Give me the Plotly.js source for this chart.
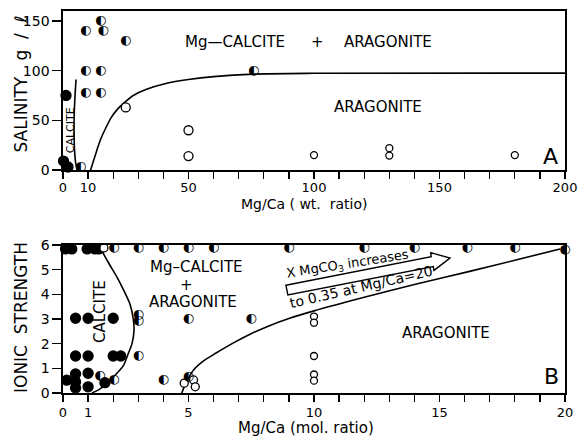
<!DOCTYPE html>
<html>
<head>
<meta charset="utf-8">
<script src="https://cdn.plot.ly/plotly-3.0.1.min.js"></script>
<style>
html,body{margin:0;padding:0;background:#fff;}
#chart{width:578px;height:439px;}
</style>
</head>
<body>
<div id="chart"></div>
<script>
// ---------- Panel A (salinity vs Mg/Ca wt. ratio) ----------
const topFilledX = [1.2, 0.2, 2];
const topFilledY = [75, 9, 3];
const topHalfX = [15, 9, 16, 25, 9, 15, 9, 15, 76, 7];
const topHalfY = [150, 140, 140, 130, 100, 100, 78, 78, 100, 3];
const topOpenX = [25, 50, 50];
const topOpenY = [63, 40, 14];
const topSmallOpenX = [100, 130, 130, 180];
const topSmallOpenY = [15, 22, 14.5, 15];
const topCalciteLineX = [5.2, 4.8, 4.45, 4.4, 4.6, 5.0, 5.6];
const topCalciteLineY = [91, 75, 55, 40, 20, 8, 0];
const topAragLineX = [11, 12, 13.5, 15, 17, 19, 22, 25, 28, 33, 41, 50, 60, 76, 100, 200];
const topAragLineY = [0, 8, 20, 31, 42, 52, 62, 69, 75, 81, 87, 91, 94, 96.5, 97.3, 97.5];
const topTickVals = [0,10,20,30,40,50,60,70,80,90,100,110,120,130,140,150,160,170,180,190,200];
const topTickText = ['0','10','','','','50','','','','','100','','','','','150','','','','','200'];
const topYTicks = [0, 50, 100, 150];

// ---------- Panel B (ionic strength vs Mg/Ca mol. ratio) ----------
const botFilledX = [0.1, 0.35, 0.96, 1.27, 1.43, 0.5, 1, 2, 0.5, 1, 2, 2.3, 0.15, 0.5, 0.5, 0.5, 1.0, 1.0, 1.67];
const botFilledY = [5.84, 5.84, 5.84, 5.84, 5.84, 3.03, 3.03, 3.03, 1.5, 1.5, 1.5, 1.5, 0.52, 0.77, 0.45, 0.2, 0.8, 0.25, 0.42];
const botHalfX = [2.03, 3, 4, 5, 6, 9, 12, 14, 16.1, 18, 20, 3, 3, 5, 7.5, 3, 1.47, 2.03, 4.0, 5.0];
const botHalfY = [5.88, 5.88, 5.88, 5.88, 5.88, 5.88, 5.88, 5.88, 5.88, 5.88, 5.8, 3.16, 2.92, 3.0, 3.0, 1.5, 0.69, 0.53, 0.53, 0.64];
const botOpenX = [1.63, 20, 4.83, 5.2, 5.27];
const botOpenY = [5.88, 6.05, 0.4, 0.53, 0.25];
const botSmallOpenX = [10, 10, 10, 10, 10];
const botSmallOpenY = [3.1, 2.85, 1.5, 0.75, 0.5];
const botCalciteLineX = [1.45, 1.8, 2.15, 2.45, 2.67, 2.8, 2.83, 2.75, 2.6, 2.4, 2.1, 1.75, 1.45, 1.15];
const botCalciteLineY = [5.95, 5.3, 4.7, 4.1, 3.6, 3.0, 2.55, 2.0, 1.6, 1.1, 0.75, 0.4, 0.15, 0];
const botAragLineX = [4.73, 4.85, 5.0, 5.2, 5.6, 6.1, 6.7, 7.45, 8.2, 9.0, 10, 12, 14, 16.2, 18, 19.8];
const botAragLineY = [0, 0.3, 0.6, 0.93, 1.3, 1.62, 1.98, 2.38, 2.72, 3.02, 3.33, 3.88, 4.4, 4.93, 5.38, 5.84];
const botTickVals = [0,1,2,3,4,5,6,7,8,9,10,11,12,13,14,15,16,17,18,19,20];
const botTickText = ['0','1','','','','5','','','','','10','','','','','15','','','','','20'];
const botYTicks = [0,1,2,3,4,5,6];

const FONT = 'DejaVu Sans, Arial, sans-serif';
const HALF = '\u25D0';

function lineTrace(x, y, xa, ya) {
  return {x: x, y: y, xaxis: xa, yaxis: ya, mode: 'lines', type: 'scatter',
    line: {color: '#000', width: 1.6, shape: 'spline', smoothing: 0.8}, hoverinfo: 'skip', cliponaxis: false};
}
function markTrace(x, y, xa, ya, fill, size) {
  return {x: x, y: y, xaxis: xa, yaxis: ya, mode: 'markers', type: 'scatter', cliponaxis: false,
    marker: {symbol: 'circle', size: size, color: fill,
      line: {color: '#000', width: 1.3}}};
}
function halfTrace(x, y, xa, ya) {
  return {x: x, y: y, xaxis: xa, yaxis: ya, mode: 'text', type: 'scatter', cliponaxis: false,
    text: x.map(() => HALF), textposition: 'middle center',
    textfont: {family: 'DejaVu Sans', size: 13, color: '#000'}};
}

const data = [
  lineTrace(topCalciteLineX, topCalciteLineY, 'x', 'y'),
  lineTrace(topAragLineX, topAragLineY, 'x', 'y'),
  markTrace(topFilledX, topFilledY, 'x', 'y', '#000', 10),
  markTrace(topOpenX, topOpenY, 'x', 'y', '#fff', 9),
  markTrace(topSmallOpenX, topSmallOpenY, 'x', 'y', '#fff', 7),
  halfTrace(topHalfX, topHalfY, 'x', 'y'),
  lineTrace(botCalciteLineX, botCalciteLineY, 'x2', 'y2'),
  lineTrace(botAragLineX, botAragLineY, 'x2', 'y2'),
  markTrace(botFilledX, botFilledY, 'x2', 'y2', '#000', 10),
  markTrace(botOpenX, botOpenY, 'x2', 'y2', '#fff', 8),
  markTrace(botSmallOpenX, botSmallOpenY, 'x2', 'y2', '#fff', 7),
  halfTrace(botHalfX, botHalfY, 'x2', 'y2')
];

const xDom = [63/578, 565/578];
const axBase = {showgrid: false, zeroline: false, showline: true, linecolor: '#000', linewidth: 1.6,
  mirror: true, ticks: 'outside', tickcolor: '#000', tickwidth: 1.4, automargin: false,
  tickfont: {family: FONT, size: 13, color: '#000'}, fixedrange: true};

const layout = {
  width: 578, height: 439,
  margin: {l: 0, r: 0, t: 0, b: 0},
  paper_bgcolor: '#fff', plot_bgcolor: '#fff',
  showlegend: false,
  font: {family: FONT, color: '#000'},
  xaxis: Object.assign({}, axBase, {domain: xDom, range: [0, 200], anchor: 'y',
    tickmode: 'array', tickvals: topTickVals, ticktext: topTickText, ticklen: 7, ticklabelstandoff: -2}),
  yaxis: Object.assign({}, axBase, {domain: [1 - 170/439, 1 - 11/439], range: [0, 160], anchor: 'x',
    tickmode: 'array', tickvals: topYTicks, ticklen: 9, tickfont: {family: FONT, size: 14, color: '#000'}}),
  xaxis2: Object.assign({}, axBase, {domain: xDom, range: [0, 20], anchor: 'y2',
    tickmode: 'array', tickvals: botTickVals, ticktext: botTickText, ticklen: 7}),
  yaxis2: Object.assign({}, axBase, {domain: [1 - 393/439, 1 - 245/439], range: [0, 6], anchor: 'x2',
    tickmode: 'array', tickvals: botYTicks, ticklen: 9, tickfont: {family: FONT, size: 14, color: '#000'}}),
  shapes: [
    {type: 'path', xref: 'x2', yref: 'y2', layer: 'above',
     path: 'M 8.88 4.37 L 14.67 5.53 L 14.65 5.69 L 15.42 5.47 L 14.78 4.97 L 14.75 5.13 L 8.96 3.98 Z',
     fillcolor: '#fff', line: {color: '#000', width: 1.4}}
  ],
  annotations: [
    // axis titles
    {xref: 'paper', yref: 'paper', x: 304/578, y: 1 - 204/439, text: 'Mg/Ca (\u00A0wt.\u00A0\u00A0ratio)', showarrow: false,
     font: {size: 14}, xanchor: 'center', yanchor: 'middle'},
    {xref: 'paper', yref: 'paper', x: 306/578, y: 1 - 428/439, text: 'Mg/Ca (mol. ratio)', showarrow: false,
     font: {size: 15}, xanchor: 'center', yanchor: 'middle'},
    {xref: 'paper', yref: 'paper', x: 20.5/578, y: 1 - 84/439, text: 'SALINITY\u00A0\u00A0\u00A0g\u00A0\u00A0/\u00A0\u00A0\u2113', showarrow: false,
     font: {size: 17}, textangle: -90, xanchor: 'center', yanchor: 'middle'},
    {xref: 'paper', yref: 'paper', x: 21/578, y: 1 - 318/439, text: 'IONIC\u00A0\u00A0STRENGTH', showarrow: false,
     font: {size: 17}, textangle: -90, xanchor: 'center', yanchor: 'middle'},
    // panel A labels
    {xref: 'x', yref: 'y', x: (235-63)/2.51, y: 129, text: 'Mg\u2014CALCITE', showarrow: false, font: {size: 15}},
    {xref: 'x', yref: 'y', x: (317-63)/2.51, y: 129, text: '+', showarrow: false, font: {size: 15}},
    {xref: 'x', yref: 'y', x: (388-63)/2.51, y: 129, text: 'ARAGONITE', showarrow: false, font: {size: 15}},
    {xref: 'x', yref: 'y', x: 125.3, y: 63.4, text: 'ARAGONITE', showarrow: false, font: {size: 15}},
    {xref: 'x', yref: 'y', x: 194.2, y: 13.6, text: 'A', showarrow: false, font: {size: 22}},
    {xref: 'x', yref: 'y', x: 2.8, y: 40, text: 'CALCITE', showarrow: false, font: {size: 11}, textangle: -90},
    // panel B labels
    {xref: 'x2', yref: 'y2', x: 5.3, y: 5.1, text: 'Mg\u2013CALCITE', showarrow: false, font: {size: 15}},
    {xref: 'x2', yref: 'y2', x: 4.94, y: 4.38, text: '+', showarrow: false, font: {size: 15}},
    {xref: 'x2', yref: 'y2', x: 5.18, y: 3.69, text: 'ARAGONITE', showarrow: false, font: {size: 15}},
    {xref: 'x2', yref: 'y2', x: 1.47, y: 3.32, text: 'CALCITE', showarrow: false, font: {size: 15}, textangle: -90},
    {xref: 'x2', yref: 'y2', x: 15.26, y: 2.43, text: 'ARAGONITE', showarrow: false, font: {size: 15}},
    {xref: 'x2', yref: 'y2', x: 19.46, y: 0.67, text: 'B', showarrow: false, font: {size: 22}},
    {xref: 'x2', yref: 'y2', x: 11.35, y: 5.19, text: 'X MgCO<sub>3</sub> increases', showarrow: false, font: {size: 13}, textangle: -9},
    {xref: 'x2', yref: 'y2', x: 11.86, y: 4.31, text: 'to 0.35 at Mg/Ca=20', showarrow: false, font: {size: 14}, textangle: -13}
  ]
};

Plotly.newPlot('chart', data, layout, {displayModeBar: false, staticPlot: true});
</script>
</body>
</html>
